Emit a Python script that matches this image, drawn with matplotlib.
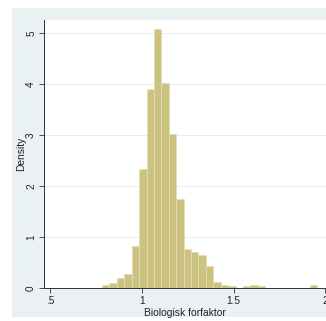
import numpy as np
import matplotlib
matplotlib.use("Agg")
import matplotlib.pyplot as plt
from matplotlib.patches import Rectangle

# Histogram data
bin_start = 0.783
bin_width = 0.0404
densities = [0.06, 0.10, 0.19, 0.27, 0.82, 2.33, 3.89, 5.07, 4.02, 3.02,
             1.75, 0.77, 0.70, 0.64, 0.44, 0.11, 0.06, 0.04, 0.0, 0.03,
             0.06, 0.04, 0.0, 0.0, 0.0, 0.0, 0.0, 0.0, 0.06]
x_ticks = [0.5, 1.0, 1.5, 2.0]
x_tick_labels = [".5", "1", "1.5", "2"]
y_ticks = [0, 1, 2, 3, 4, 5]
x_label = "Biologisk forfaktor"
y_label = "Density"

W, H = 326, 321
fig = plt.figure(figsize=(W / 100, H / 100), dpi=100)
fig.patch.set_facecolor("white")
bg = "#EAF1F3"
fig.patches.append(Rectangle((12 / W, (H - 317) / H), (W - 12) / W, (317 - 8) / H,
                             transform=fig.transFigure, facecolor=bg,
                             edgecolor="none", zorder=-10))

ax = fig.add_axes([44 / W, (H - 288) / H, (W - 44) / W, (288 - 20) / H])
ax.set_zorder(5)
ax.set_facecolor("white")

fam = ["Liberation Sans Narrow", "Liberation Sans", "DejaVu Sans"]

lefts = bin_start + bin_width * np.arange(len(densities))
ax.bar(lefts, densities, width=bin_width, align="edge",
       color="#CBC37F", edgecolor="#E2DDB4", linewidth=0.6, zorder=2)

ax.set_xlim(0.467, 2.003)
ax.set_ylim(0, 5.25)

ax.set_yticks(y_ticks)
ax.set_yticklabels([str(v) for v in y_ticks], rotation=90, va="center",
                   fontsize=7.2, family=fam, color="#222222")
ax.set_xticks(x_ticks)
ax.set_xticklabels(x_tick_labels, fontsize=7.2, family=fam, color="#222222")
ax.tick_params(axis="both", direction="out", length=3.5, width=0.6,
               color="#333333", pad=2.2)

for v in y_ticks[1:]:
    ax.axhline(v, color="#E4EDF0", linewidth=0.7, zorder=1)

for s in ["top", "right"]:
    ax.spines[s].set_visible(False)
for s in ["left", "bottom"]:
    ax.spines[s].set_linewidth(0.7)
    ax.spines[s].set_color("#333333")
    ax.spines[s].set_zorder(3)

ax.set_xlabel(x_label, fontsize=7.4, family=fam, color="#222222", labelpad=1.5)
ax.set_ylabel(y_label, fontsize=7.4, family=fam, color="#222222")
ax.yaxis.set_label_coords(-0.064, 0.5)

fig.savefig("out.png", dpi=100, facecolor=fig.get_facecolor())
